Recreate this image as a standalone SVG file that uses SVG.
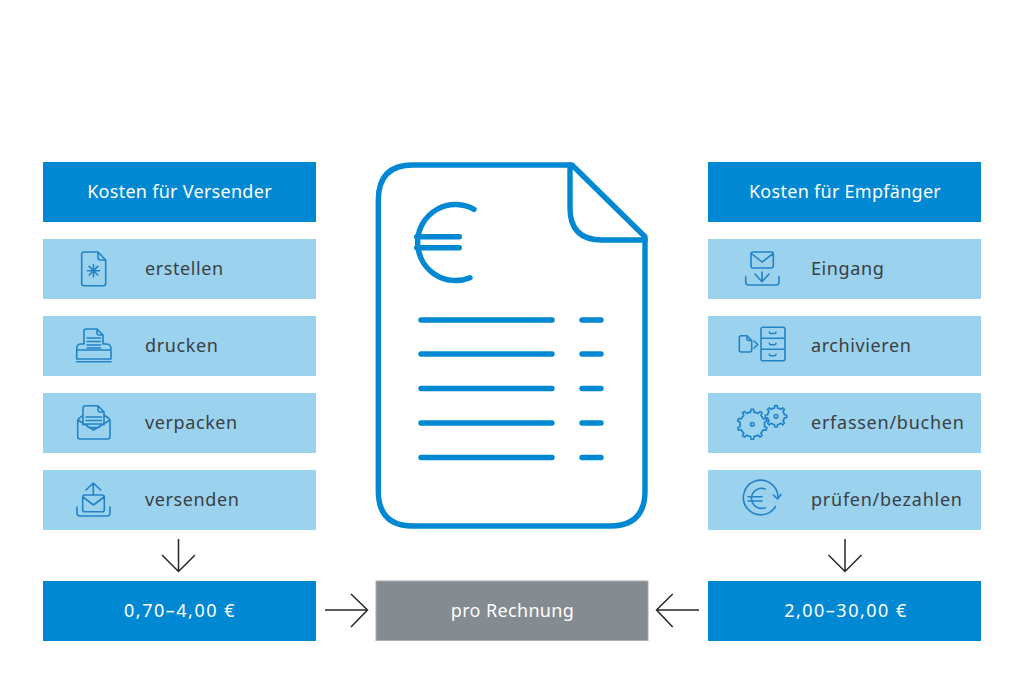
<svg xmlns="http://www.w3.org/2000/svg" width="1024" height="683" viewBox="0 0 1024 683">
<style>
.dark{fill:#0088d2}
.light{fill:#9bd2ee}
.grey{fill:#848b91;stroke:#a9afb3;stroke-width:1}
text{font-family:"Noto Sans","Open Sans","Liberation Sans",sans-serif;font-size:18px;letter-spacing:.6px}
.w{fill:#fff;text-anchor:middle}
.h{letter-spacing:.28px}
.t{letter-spacing:1.5px}
.p{letter-spacing:.35px}
.l{letter-spacing:.75px}
.d{fill:#3a3f44}
.ic{fill:none;stroke:#2283c9;stroke-width:1.6;stroke-linecap:round;stroke-linejoin:round}
.doc{fill:none;stroke:#0088d2;stroke-width:5.4;stroke-linecap:round;stroke-linejoin:round}
.arr{fill:none;stroke:#24282b;stroke-width:1.5}
</style>
<defs>
<path id="tb" d="M-3.8-11.7L-1.71-12.18L-1.31-14.94L1.31-14.94L1.71-12.18L3.8-11.7"/>
<path id="ts" d="M-3.25-7.85L-1.48-8.37L-1.32-10.72L1.32-10.72L1.48-8.37L3.25-7.85"/>
</defs>
<g id="head-left"><rect class="dark" x="43" y="162" width="273" height="60"/><text class="w h" x="179.500" y="198">Kosten für Versender</text></g>
<g id="erstellen"><rect class="light" x="43" y="239" width="273" height="60"/>
<path class="ic" d="M84 252H98L105.700 260V283.500Q105.700 285.700 103.500 285.700H84Q81.700 285.700 81.700 283.500V254.500Q81.700 252 84 252ZM98 252V257.500Q98 260 100.500 260H105.700M93.500 264.500V277M87.500 270.700H99.500M89.200 266.400L97.800 275M97.800 266.400L89.200 275"/>
<text class="d" x="145" y="275">erstellen</text></g>
<g id="drucken"><rect class="light" x="43" y="316" width="273" height="60"/>
<path class="ic" d="M84 344V331Q84 329 86 329H97L103 335V344M97 329V333Q97 335 99 335H103M87 338H100.500M87 341.500H100.500M87 345H100.500M87 348H100.500M84 350H103M84 344H81Q76.700 344 76.700 349V359H111V349Q111 344 106 344H103M76.700 350H111"/>
<path class="ic" stroke-width="2" d="M76.700 361.700H111"/>
<text class="d" x="145" y="352">drucken</text></g>
<g id="verpacken"><rect class="light" x="43" y="393" width="273" height="60"/>
<path class="ic" d="M83 425V408Q83 405.700 85.500 405.700H98L104 412V425M98 405.700V410Q98 412 100 412H104M86 417H101.500M86 420.500H101.500M86 424H101.500M88 427.500H99M83 415L79 418.500Q77.700 419.500 77.700 421V436.500Q77.700 439 80 439H107.500Q110 439 110 436.500V421Q110 419.500 109 418.500L104 415M78 420L93.500 430L110 420"/>
<text class="d" x="145" y="429">verpacken</text></g>
<g id="versenden"><rect class="light" x="43" y="470" width="273" height="60"/>
<path class="ic" d="M86 490L93.300 483L100.700 490M93.300 483V494M84.700 495H102.300Q104.300 495 104.300 497V509.700Q104.300 511.700 102.300 511.700H84.700Q82.700 511.700 82.700 509.700V497Q82.700 495 84.700 495ZM83 497L93.500 505L104 497M77 507V513Q77 516 80 516H107Q110 516 110 513V507"/>
<text class="d" x="145" y="506">versenden</text></g>
<g id="total-left"><rect class="dark" x="43" y="581" width="273" height="60"/><text class="w t" x="180" y="617">0,70–4,00 €</text></g>

<g id="invoice">
<path class="doc" d="M413 165H572L645 236.700V491Q645 526 610 526H413Q378.300 526 378.300 491V200Q378.300 165 413 165Z"/>
<path class="doc" d="M570 165V208Q570 240 602 240H645"/>
<path class="doc" d="M474 209.300A38 38 0 1 0 470 277.700M416.700 236.700H459.300M416.700 247.700H459.300"/>
<path class="doc" d="M421 320H552M582 320H601M421 354H552M582 354H601M421 388.500H552M582 388.500H601M421 423H552M582 423H601M421 457.500H552M582 457.500H601"/>
</g>
<g id="pro-rechnung"><rect class="grey" x="376" y="581" width="272" height="59.500"/><text class="w p" x="512.500" y="617">pro Rechnung</text></g>

<g id="head-right"><rect class="dark" x="708" y="162" width="273" height="60"/><text class="w h" x="845" y="198">Kosten für Empfänger</text></g>
<g id="eingang"><rect class="light" x="708" y="239" width="273" height="60"/>
<path class="ic" d="M753 252H771.300Q773.300 252 773.300 254V266Q773.300 268 771.300 268H753Q751 268 751 266V254Q751 252 753 252ZM752 254L762 262L772.500 254M762 272V281.700M755 274L762 281.700L769 274M745.700 276.700V282Q745.700 285 748.700 285H776Q779 285 779 282V276.700"/>
<text class="d" x="811" y="275">Eingang</text></g>
<g id="archivieren"><rect class="light" x="708" y="316" width="273" height="60"/>
<path class="ic" d="M741 335.700H747L751.700 340.500V350Q751.700 352 749.700 352H741Q739.300 352 739.300 350V337.500Q739.300 335.700 741 335.700ZM747 335.700V339Q747 340.500 748.500 340.500H751.700M754 341L757.700 344.500L754 348M763 327.300H783Q785 327.300 785 329.300V358.700Q785 360.700 783 360.700H763Q761 360.700 761 358.700V329.300Q761 327.300 763 327.300ZM761 338.300H785M761 349.300H785M769.300 332Q769.300 333.500 771 333.500H774.500Q776 333.500 776 332M769.300 343.300Q769.300 344.800 771 344.800H774.500Q776 344.800 776 343.300M769.300 354.300Q769.300 355.800 771 355.800H774.500Q776 355.800 776 354.300"/>
<text class="d" x="811" y="352">archivieren</text></g>
<g id="erfassen"><rect class="light" x="708" y="393" width="273" height="60"/>
<g class="ic" transform="translate(752.300 424.300)"><use href="#tb"/><use href="#tb" transform="rotate(36)"/><use href="#tb" transform="rotate(72)"/><use href="#tb" transform="rotate(108)"/><use href="#tb" transform="rotate(144)"/><use href="#tb" transform="rotate(180)"/><use href="#tb" transform="rotate(216)"/><use href="#tb" transform="rotate(252)"/><use href="#tb" transform="rotate(288)"/><use href="#tb" transform="rotate(324)"/><circle r="1.800"/></g>
<g class="ic" transform="translate(776 416.300)"><use href="#ts"/><use href="#ts" transform="rotate(45)"/><use href="#ts" transform="rotate(90)"/><use href="#ts" transform="rotate(135)"/><use href="#ts" transform="rotate(180)"/><use href="#ts" transform="rotate(225)"/><use href="#ts" transform="rotate(270)"/><use href="#ts" transform="rotate(315)"/><circle r="1.800"/></g>
<text class="d l" x="811" y="429">erfassen/buchen</text></g>
<g id="pruefen"><rect class="light" x="708" y="470" width="273" height="60"/>
<path class="ic" d="M778 497A17.300 17.300 0 1 0 775.500 506.500M773.500 495L777.500 499L781 494.500M765 489A10 10 0 1 0 765 507.700M748 496.700H762M748 501H762"/>
<text class="d l" x="811" y="506">prüfen/bezahlen</text></g>
<g id="total-right"><rect class="dark" x="708" y="581" width="273" height="60"/><text class="w t" x="846" y="617">2,00–30,00 €</text></g>

<g id="connectors">
<path class="arr" d="M178.500 539V571M162 555L178.500 571.500L195 555"/>
<path class="arr" d="M845 539V571M828.500 555L845 571.500L861.500 555"/>
<path class="arr" d="M325 610H367M351 594L367.500 610L351 627"/>
<path class="arr" d="M699 610H657M672.700 594L656.500 610L672.700 627"/>
</g>
</svg>
